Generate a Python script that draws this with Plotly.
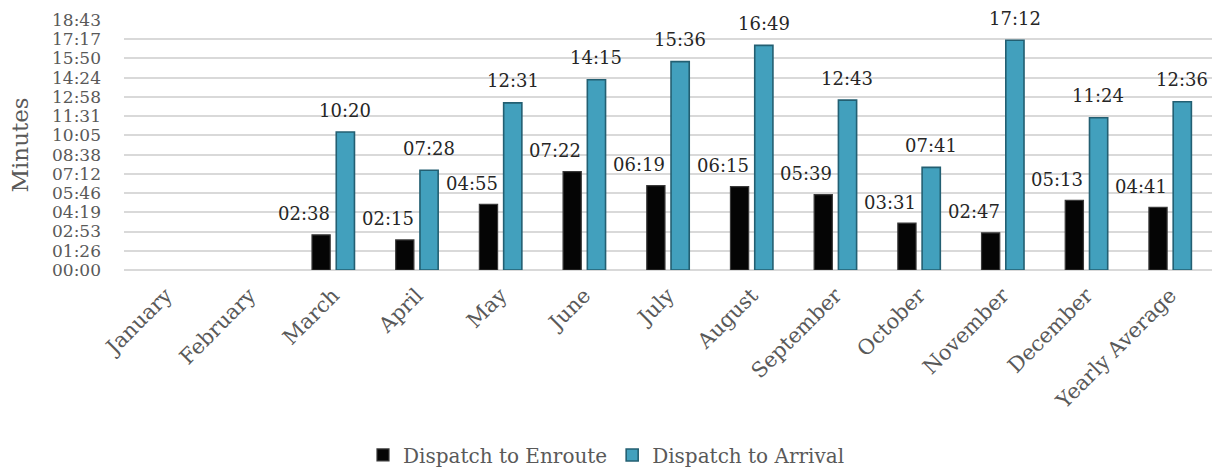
import plotly.graph_objects as go

months = ["January", "February", "March", "April", "May", "June", "July",
          "August", "September", "October", "November", "December", "Yearly Average"]
enroute = [None, None, "02:38", "02:15", "04:55", "07:22", "06:19", "06:15",
           "05:39", "03:31", "02:47", "05:13", "04:41"]
arrival = [None, None, "10:20", "07:28", "12:31", "14:15", "15:36", "16:49",
           "12:43", "07:41", "17:12", "11:24", "12:36"]
y_tick_labels = ["00:00", "01:26", "02:53", "04:19", "05:46", "07:12", "08:38",
                 "10:05", "11:31", "12:58", "14:24", "15:50", "17:17", "18:43"]
tick_step_seconds = 86.4  # 0.001 day


def to_sec(s):
    if s is None:
        return None
    m, sec = s.split(":")
    return int(m) * 60 + int(sec)


enroute_s = [to_sec(v) for v in enroute]
arrival_s = [to_sec(v) for v in arrival]

FONT = "DejaVu Serif"
TXT = "#595959"

fig = go.Figure()
fig.add_trace(go.Bar(
    x=months, y=enroute_s, name="Dispatch to Enroute",
    marker=dict(color="#050505", line=dict(color="#3a3a3a", width=1.2)),
    hoverinfo="skip",
))
fig.add_trace(go.Bar(
    x=months, y=arrival_s, name="Dispatch to Arrival",
    marker=dict(color="#42a0bd", line=dict(color="#235f72", width=1.6)),
    hoverinfo="skip",
))

ann = []
for m, v, s in zip(months, enroute, enroute_s):
    if v is None:
        continue
    ann.append(dict(x=m, y=s, xref="x", yref="y", text=v, showarrow=False,
                    xshift=-29, yshift=21, yanchor="middle",
                    font=dict(family=FONT, size=18, color="#262626")))
for m, v, s in zip(months, arrival, arrival_s):
    if v is None:
        continue
    ann.append(dict(x=m, y=s, xref="x", yref="y", text=v, showarrow=False,
                    xshift=12, yshift=22, yanchor="middle",
                    font=dict(family=FONT, size=18, color="#262626")))

fig.update_layout(
    width=1213, height=469,
    margin=dict(l=124, r=1, t=20, b=199, autoexpand=False),
    paper_bgcolor="white", plot_bgcolor="white",
    barmode="group", bargap=0.42, bargroupgap=0.25,
    font=dict(family=FONT, color=TXT),
    showlegend=True,
    legend=dict(orientation="h", x=0.5, xref="container", xanchor="center",
                y=0.03, yref="container", yanchor="middle",
                font=dict(family=FONT, size=20, color=TXT), itemwidth=30,
                traceorder="normal"),
    annotations=ann,
)
fig.update_xaxes(
    tickangle=-45, tickfont=dict(family=FONT, size=21, color=TXT),
    showgrid=False, showline=False, ticks="", automargin=False,
    ticklabelstandoff=8,
)
fig.update_yaxes(
    range=[0, tick_step_seconds * (len(y_tick_labels) - 1)],
    tickvals=[i * tick_step_seconds for i in range(len(y_tick_labels))],
    ticktext=y_tick_labels,
    tickfont=dict(family=FONT, size=17, color=TXT),
    ticklabelstandoff=22,
    showgrid=True, gridcolor="#d9d9d9", gridwidth=2,
    zeroline=True, zerolinecolor="#d9d9d9", zerolinewidth=2,
    automargin=False,
    title=dict(text="Minutes", font=dict(family=FONT, size=23, color=TXT), standoff=16),
)

fig.write_html("out.html", config={"displayModeBar": False},
               post_script="document.body.style.margin='0px';")
